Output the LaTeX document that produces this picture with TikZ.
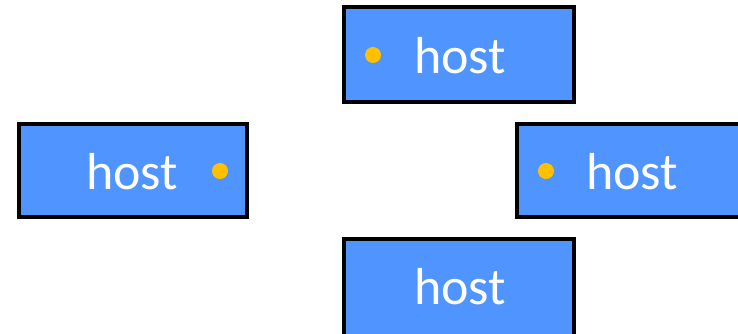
\documentclass[tikz,border=0pt]{standalone}
\usepackage{fontspec}
\setmainfont{Carlito}
\definecolor{boxblue}{RGB}{79,148,255}
\definecolor{dotyellow}{RGB}{255,192,0}
\begin{document}
\begin{tikzpicture}[x=1pt,y=-1pt,
  hostbox/.style={draw=black,fill=boxblue,line width=4pt,rectangle,minimum width=230pt,minimum height=95pt,inner sep=0pt,outer sep=0pt},
  hostlabel/.style={text=white,font=\fontsize{52}{60}\selectfont,anchor=base,inner sep=0pt},
  hostdot/.style={fill=dotyellow}]
\useasboundingbox (0,0) rectangle (738,333);
\clip (0,0) rectangle (738,333);
\node[hostbox] (top) at (459,54.5) {};
\node[hostbox,minimum width=228pt,minimum height=93pt] (left) at (133,170.5) {};
\node[hostbox,minimum height=93pt] (right) at (632,170.5) {};
\node[hostbox,minimum height=100pt] (bottom) at (459,289) {};
\node[hostlabel] (toplabel) at (460,73) {host};
\node[hostlabel] (leftlabel) at (132,189) {host};
\node[hostlabel] (rightlabel) at (632,189) {host};
\node[hostlabel] (bottomlabel) at (460,304) {host};
\fill[hostdot] (373,55) circle (8);
\fill[hostdot] (220,171) circle (8);
\fill[hostdot] (546,171) circle (8);
\end{tikzpicture}
\end{document}
